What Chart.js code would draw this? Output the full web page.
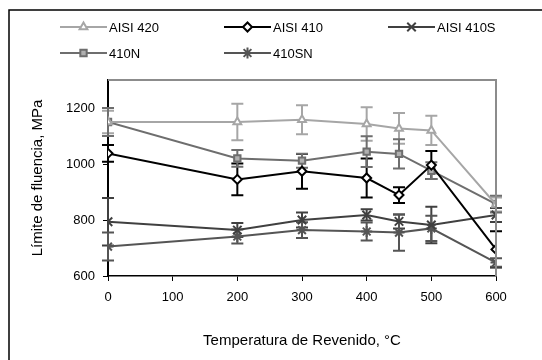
<!DOCTYPE html>
<html lang="es">
<head>
<meta charset="UTF-8">
<title>Límite de fluencia vs temperatura de revenido</title>
<script src="https://cdn.jsdelivr.net/npm/chart.js@4.4.0/dist/chart.umd.min.js"></script>
<style>
  html, body { margin: 0; padding: 0; background: #fff; }
</style>
</head>
<body>
<canvas id="c" width="542" height="360"></canvas>
<script>
    // temperaturas de revenido (°C)
    const temps = [0, 200, 300, 400, 450, 500, 600];

    const labels = ['AISI 420', 'AISI 410', 'AISI 410S', '410N', '410SN'];

    const aisi420 = [1150, 1150, 1158, 1143, 1127, 1120, 855];
    const err420 = [40, 65, 52, 60, 55, 52, 25];

    const aisi410 = [1038, 945, 974, 950, 889, 996, 695];
    const err410 = [30, 57, 62, 70, 28, 50, 65];

    const aisi410S = [794, 764, 800, 818, 795, 782, 818];
    const err410S = [85, 25, 27, 20, 25, 65, 25];

    const n410 = [1150, 1020, 1012, 1044, 1036, 976, 857];
    const err410N = [50, 30, 25, 55, 52, 30, 30];

    const sn410 = [705, 741, 764, 759, 755, 770, 648];
    const err410SN = [50, 25, 28, 32, 65, 45, 15];

    const yTicks = [600, 800, 1000, 1200];

    const FONT = '"Liberation Sans", Arial, sans-serif';

    function serie(i, vals, errs, color, style, fill, r) {
        return {
            label: labels[i],
            data: temps.map((t, j) => ({ x: t, y: vals[j] })),
            errors: errs,
            borderColor: color,
            backgroundColor: fill,
            borderWidth: 2,
            pointStyle: style,
            pointRadius: r,
            pointBorderWidth: 2,
            pointBorderColor: color,
            pointBackgroundColor: fill,
            tension: 0
        };
    }

    // barras de error (no hay plugin, se dibujan a mano)
    const errorBars = {
        id: 'errorBars',
        beforeDatasetsDraw(chart) {
            const ctx = chart.ctx, xs = chart.scales.x, ys = chart.scales.y;
            chart.data.datasets.forEach(ds => {
                ctx.save();
                ctx.strokeStyle = ds.borderColor;
                ctx.lineWidth = 2;
                ds.data.forEach((p, j) => {
                    const e = ds.errors[j];
                    const px = xs.getPixelForValue(p.x);
                    const t = ys.getPixelForValue(p.y + e);
                    const b = ys.getPixelForValue(p.y - e);
                    ctx.beginPath();
                    ctx.moveTo(px, t); ctx.lineTo(px, b);
                    ctx.moveTo(px - 6, t); ctx.lineTo(px + 6, t);
                    ctx.moveTo(px - 6, b); ctx.lineTo(px + 6, b);
                    ctx.stroke();
                });
                ctx.restore();
            });
        }
    };

    // marco, borde gris del área y leyenda
    const decor = {
        id: 'decor',
        beforeDraw(chart) {
            const ctx = chart.ctx;
            ctx.save();
            ctx.fillStyle = '#fff';
            ctx.fillRect(0, 0, chart.width, chart.height);
            ctx.strokeStyle = '#000';
            ctx.lineWidth = 1.5;
            ctx.strokeRect(9, 10, 700, 500);
            ctx.restore();
        },
        afterDraw(chart) {
            const ctx = chart.ctx, a = chart.chartArea;
            ctx.save();
            ctx.strokeStyle = '#8c8c8c';
            ctx.lineWidth = 2;
            ctx.beginPath();
            ctx.moveTo(a.left, a.top); ctx.lineTo(a.right, a.top); ctx.lineTo(a.right, a.bottom);
            ctx.stroke();

            const pos = [[60, 27], [224, 27], [388, 27], [60, 53], [224, 53]];
            chart.data.datasets.forEach((ds, i) => {
                const [lx, ly] = pos[i];
                ctx.strokeStyle = ds.borderColor;
                ctx.lineWidth = 2;
                ctx.beginPath();
                ctx.moveTo(lx, ly); ctx.lineTo(lx + 47, ly);
                ctx.stroke();
                ctx.fillStyle = ds.pointBackgroundColor;
                Chart.helpers.drawPoint(ctx, {
                    pointStyle: ds.pointStyle, radius: ds.pointRadius, rotation: 0, borderWidth: 2
                }, lx + 23.5, ly);
                ctx.fillStyle = '#000';
                ctx.font = '13px ' + FONT;
                ctx.textBaseline = 'middle';
                ctx.textAlign = 'left';
                ctx.fillText(ds.label, lx + 49, ly + 1);
            });
            ctx.restore();
        }
    };

    new Chart(document.getElementById('c'), {
        type: 'line',
        data: {
            datasets: [
                serie(0, aisi420, err420, '#a6a6a6', 'triangle', '#fff', 4.5),
                serie(1, aisi410, err410, '#000000', 'rectRot', '#fff', 4.5),
                serie(2, aisi410S, err410S, '#404040', 'crossRot', '#fff', 6),
                serie(3, n410, err410N, '#6e6e6e', 'rect', '#b0b0b0', 4.5),
                serie(4, sn410, err410SN, '#555555', 'star', '#fff', 5.5)
            ]
        },
        options: {
            responsive: false,
            animation: false,
            devicePixelRatio: 1,
            layout: { padding: { top: 80, left: 25, right: 46, bottom: 6 } },
            plugins: { legend: { display: false }, tooltip: { enabled: false } },
            scales: {
                x: {
                    type: 'linear',
                    min: 0, max: 600,
                    afterFit(s) { s.height = 78; },
                    grid: { drawOnChartArea: false, tickLength: 5, color: '#000', lineWidth: 1 },
                    border: { color: '#000', width: 1.5 },
                    ticks: { stepSize: 100, padding: 9, color: '#000', font: { family: FONT, size: 13 },
                        callback: v => String(v) },
                    title: {
                        display: true, text: 'Temperatura de Revenido, °C', color: '#000',
                        font: { family: FONT, size: 15 }, padding: 4
                    }
                },
                y: {
                    min: 600, max: 1300,
                    afterFit(s) { s.width = 83; },
                    afterBuildTicks(s) { s.ticks = yTicks.map(v => ({ value: v })); },
                    grid: { drawOnChartArea: false, tickLength: 5, color: '#000', lineWidth: 1 },
                    border: { color: '#000', width: 2 },
                    ticks: { padding: 8, color: '#000', font: { family: FONT, size: 13 },
                        callback: v => String(v) },
                    title: {
                        display: true, text: 'Límite de fluencia, MPa', color: '#000',
                        font: { family: FONT, size: 15 }, padding: 4
                    }
                }
            }
        },
        plugins: [errorBars, decor]
    });
</script>
</body>
</html>
